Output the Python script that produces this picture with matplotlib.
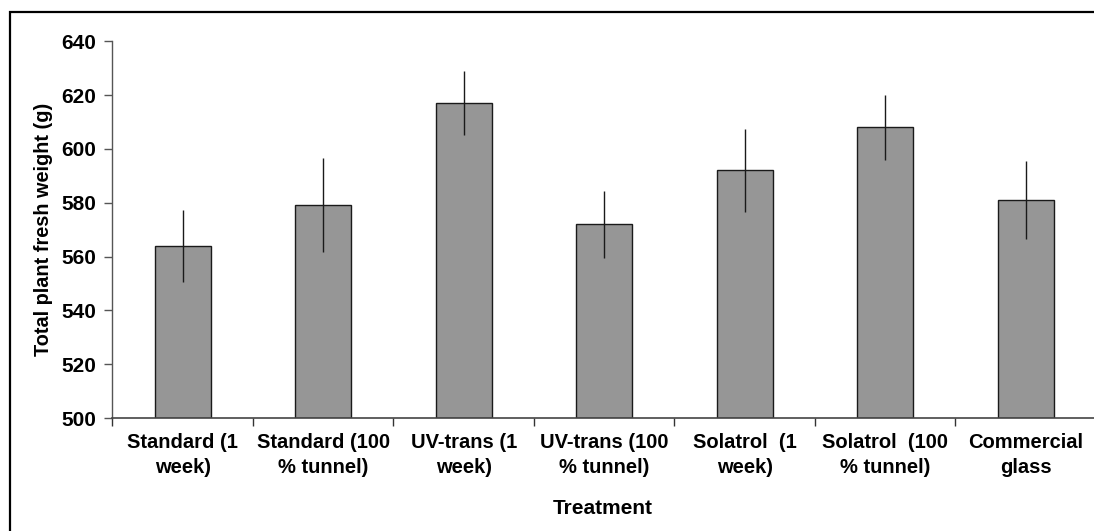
import matplotlib.pyplot as plt
from matplotlib.patches import Rectangle
import numpy as np

plt.rcParams["font.family"] = ["Liberation Sans", "DejaVu Sans"]
plt.rcParams["font.weight"] = "bold"

tratamientos = ["Standard (1\nweek)", "Standard (100\n% tunnel)", "UV-trans (1\nweek)",
                "UV-trans (100\n% tunnel)", "Solatrol  (1\nweek)", "Solatrol  (100\n% tunnel)",
                "Commercial\nglass"]
peso_fresco = [564, 579, 617, 572, 592, 608, 581]
error_std = [13.3, 17.5, 12, 12.5, 15.5, 12, 14.5]
ticks_y = [500, 520, 540, 560, 580, 600, 620, 640]

W, H = 1094, 531
fig = plt.figure(figsize=(W / 100, H / 100), dpi=100)
ax = fig.add_axes([112.4 / W, 1 - 418 / H, (1096 - 112.4) / W, (418 - 41.2) / H])

x = np.arange(len(tratamientos))
ax.bar(x, [v - 500 for v in peso_fresco], bottom=500, width=0.4,
       color="#969696", edgecolor="#1a1a1a", linewidth=1.0, zorder=2)
ax.errorbar(x, peso_fresco, yerr=error_std, fmt="none",
            ecolor="#1a1a1a", elinewidth=1.0, capsize=0, zorder=3)

ax.set_ylim(500, 640)
ax.set_yticks(ticks_y)
ax.set_xlim(-0.5, len(tratamientos) - 0.5)

# ticks en los limites de cada categoria, etiquetas centradas
ax.set_xticks(np.arange(len(tratamientos) + 1) - 0.5)
ax.set_xticklabels([])
ax.set_xticks(x, minor=True)
ax.set_xticklabels(tratamientos, minor=True, fontsize=14.5, fontweight="bold",
                   linespacing=1.35)
ax.tick_params(axis="x", which="minor", length=0, pad=11)
ax.tick_params(axis="x", which="major", length=6, width=1, color="#333333", direction="out")
ax.tick_params(axis="y", length=6, width=1, color="#555555", direction="out",
               labelsize=15, pad=5.5)
for lbl in ax.get_yticklabels():
    lbl.set_fontweight("bold")

for s in ["top", "right"]:
    ax.spines[s].set_visible(False)
ax.spines["left"].set_color("#555555")
ax.spines["bottom"].set_color("#444444")
ax.spines["left"].set_linewidth(1.0)
ax.spines["bottom"].set_linewidth(1.2)

ax.set_ylabel("Total plant fresh weight (g)", fontsize=14.3, fontweight="bold", labelpad=6)
fig.text(603 / W, 1 - 508 / H, "Treatment", ha="center", va="center",
         fontsize=15, fontweight="bold")

# marco exterior del grafico
fig.patches.append(Rectangle((10 / W, -0.1), 1.2, (H - 12) / H + 0.1,
                             transform=fig.transFigure, fill=False,
                             edgecolor="black", linewidth=1.6, zorder=0))

fig.savefig("out.png", dpi=100, facecolor="white")
